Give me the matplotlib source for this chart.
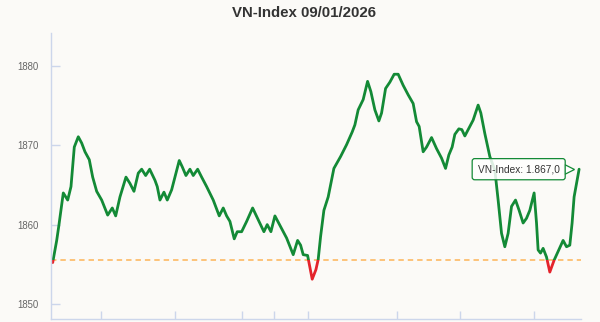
import matplotlib
matplotlib.use("Agg")
import matplotlib.pyplot as plt
import matplotlib.patches as mpatches
import matplotlib.transforms as mtransforms

# ---- data ----
t = [2.0, 6.0, 8.3, 12.6, 17.0, 20.3, 23.6, 27.6, 31.0, 34.3, 38.6, 42.0, 46.0,
     51.0, 57.0, 61.6, 65.0, 69.3, 75.3, 79.3, 83.3, 87.6, 91.0, 95.0, 99.0,
     104.3, 106.6, 109.3, 113.3, 116.6, 121.0, 125.3, 128.6, 131.6, 135.3, 139.3,
     142.6, 147.0, 151.0, 156.0, 162.6, 168.6, 172.6, 176.0, 179.3, 183.6, 186.6,
     191.0, 196.0, 202.0, 207.6, 213.3, 216.6, 220.3, 224.3, 229.3, 236.0, 242.6,
     247.0, 250.0, 252.6, 257.0, 261.6, 265.3, 267.6, 270.0, 273.3, 277.6, 283.3,
     290.0, 296.0, 301.6, 304.3, 307.6, 312.6, 317.0, 320.3, 324.3, 328.3, 331.0,
     335.0, 339.3, 343.6, 347.6, 352.6, 357.6, 362.6, 366.0, 368.6, 372.6, 376.0,
     381.0, 386.0, 391.0, 395.0, 398.3, 401.6, 404.3, 408.3, 411.3, 414.3, 417.6,
     422.6, 427.6, 430.3, 434.3, 439.3, 444.3, 447.6, 451.0, 454.3, 457.6, 461.0,
     465.0, 468.6, 472.6, 476.0, 479.3, 483.6, 486.0, 487.6, 490.0, 492.6, 496.0,
     499.3, 503.6, 508.3, 512.6, 516.0, 519.3, 521.6, 523.6, 528.6]
vnindex = [1855.2, 1858.0, 1860.0, 1864.0, 1863.1, 1864.8, 1869.8, 1871.1, 1870.3,
           1869.2, 1868.2, 1866.0, 1864.2, 1863.1, 1861.2, 1862.1, 1861.1, 1863.5,
           1866.0, 1865.2, 1864.2, 1866.5, 1867.0, 1866.2, 1867.0, 1865.6, 1864.8,
           1863.1, 1864.1, 1863.1, 1864.4, 1866.5, 1868.1, 1867.3, 1866.2, 1867.0,
           1866.2, 1867.0, 1866.0, 1864.8, 1863.1, 1861.1, 1862.1, 1861.1, 1860.4,
           1858.2, 1859.1, 1859.1, 1860.4, 1862.1, 1860.6, 1859.1, 1860.0, 1859.1,
           1861.1, 1859.9, 1858.3, 1856.2, 1858.0, 1857.4, 1856.2, 1856.1, 1853.1,
           1854.3, 1855.6, 1858.5, 1861.8, 1863.5, 1867.1, 1868.6, 1870.1, 1871.7,
           1872.6, 1874.5, 1875.8, 1878.1, 1876.8, 1874.5, 1873.1, 1874.1, 1877.2,
           1878.0, 1879.0, 1879.0, 1877.6, 1876.4, 1875.3, 1873.0, 1872.4, 1869.2,
           1869.8, 1871.0, 1869.6, 1868.4, 1867.1, 1868.8, 1869.8, 1871.4, 1872.1,
           1872.0, 1871.2, 1872.0, 1873.2, 1875.1, 1874.1, 1871.5, 1868.6, 1866.9,
           1863.1, 1858.9, 1857.2, 1858.9, 1862.3, 1863.1, 1861.8, 1860.2, 1860.8,
           1861.8, 1864.0, 1860.2, 1856.8, 1856.4, 1857.0, 1855.9, 1854.0, 1855.5,
           1856.8, 1858.0, 1857.2, 1857.4, 1860.2, 1863.5, 1867.0]
reference_level = 1855.5
x_ticks = [49.9, 124.2, 191.2, 223.7, 257.4, 346.2, 409.3, 483.9]
y_ticks = [1850, 1860, 1870, 1880]
title = "VN-Index 09/01/2026"
tooltip = "VN-Index: 1.867,0"

# ---- style ----
BG = "#fbfaf7"
GREEN = "#138a36"
RED = "#e4232b"
AXIS = "#ccd6eb"
plt.rcParams["font.family"] = ["Liberation Sans", "DejaVu Sans"]

fig = plt.figure(figsize=(6.0, 3.22), dpi=100, facecolor=BG)
ax = fig.add_axes([0.0845, 0.0093, 0.8835, 0.8882], facecolor=BG)
ax.set_xlim(0, 530.3)
ax.set_ylim(1848.07, 1884.21)

# reference dashed line
ax.axhline(reference_level, color="#fdbf6f", lw=1.3, ls=(0, (3, 2.2)), zorder=1)

# line: green above reference, red below
big = 1000
g_line, = ax.plot(t, vnindex, color=GREEN, lw=2.0, solid_joinstyle="round",
                  solid_capstyle="round", zorder=2)
r_line, = ax.plot(t, vnindex, color=RED, lw=2.0, solid_joinstyle="round",
                  solid_capstyle="round", zorder=2)
clip_up = mpatches.Rectangle((-big, reference_level), 3 * big, big, transform=ax.transData)
clip_dn = mpatches.Rectangle((-big, reference_level - big), 3 * big, big, transform=ax.transData)
g_line.set_clip_path(clip_up)
r_line.set_clip_path(clip_dn)

# axes styling
for s in ["top", "right"]:
    ax.spines[s].set_visible(False)
for s in ["left", "bottom"]:
    ax.spines[s].set_color(AXIS)
    ax.spines[s].set_linewidth(1.0)
ax.set_yticks(y_ticks)
ax.set_yticklabels([str(v) for v in y_ticks])
ax.set_xticks(x_ticks)
ax.set_xticklabels([])
ax.tick_params(axis="y", direction="in", length=6.2, width=1.0, color=AXIS,
               labelsize=6.9, labelcolor="#666666", pad=9)
ax.tick_params(axis="x", direction="in", length=5.8, width=1.0, color=AXIS)

# title
fig.text(304 / 600, 1 - 16.7 / 322, title, ha="center", va="baseline",
         fontsize=10.8, fontweight="bold", color="#333333")

# tooltip
ptr = mtransforms.offset_copy(ax.transData, fig=fig, x=-10, y=0, units="dots")
ax.plot(t[-1], vnindex[-1], marker=">", ms=6.5, mfc="white", mec=GREEN, mew=0.9,
        transform=ptr, zorder=3)
ax.annotate(tooltip, xy=(t[-1], vnindex[-1]), xytext=(-43.5, 0),
            textcoords="offset points", ha="center", va="center",
            fontsize=7.3, color="#333333", zorder=4,
            bbox=dict(boxstyle="round,pad=0.55,rounding_size=0.25",
                      fc=(1, 1, 1, 0.85), ec=GREEN, lw=0.9))

fig.savefig("out.png", dpi=100, facecolor=BG)
